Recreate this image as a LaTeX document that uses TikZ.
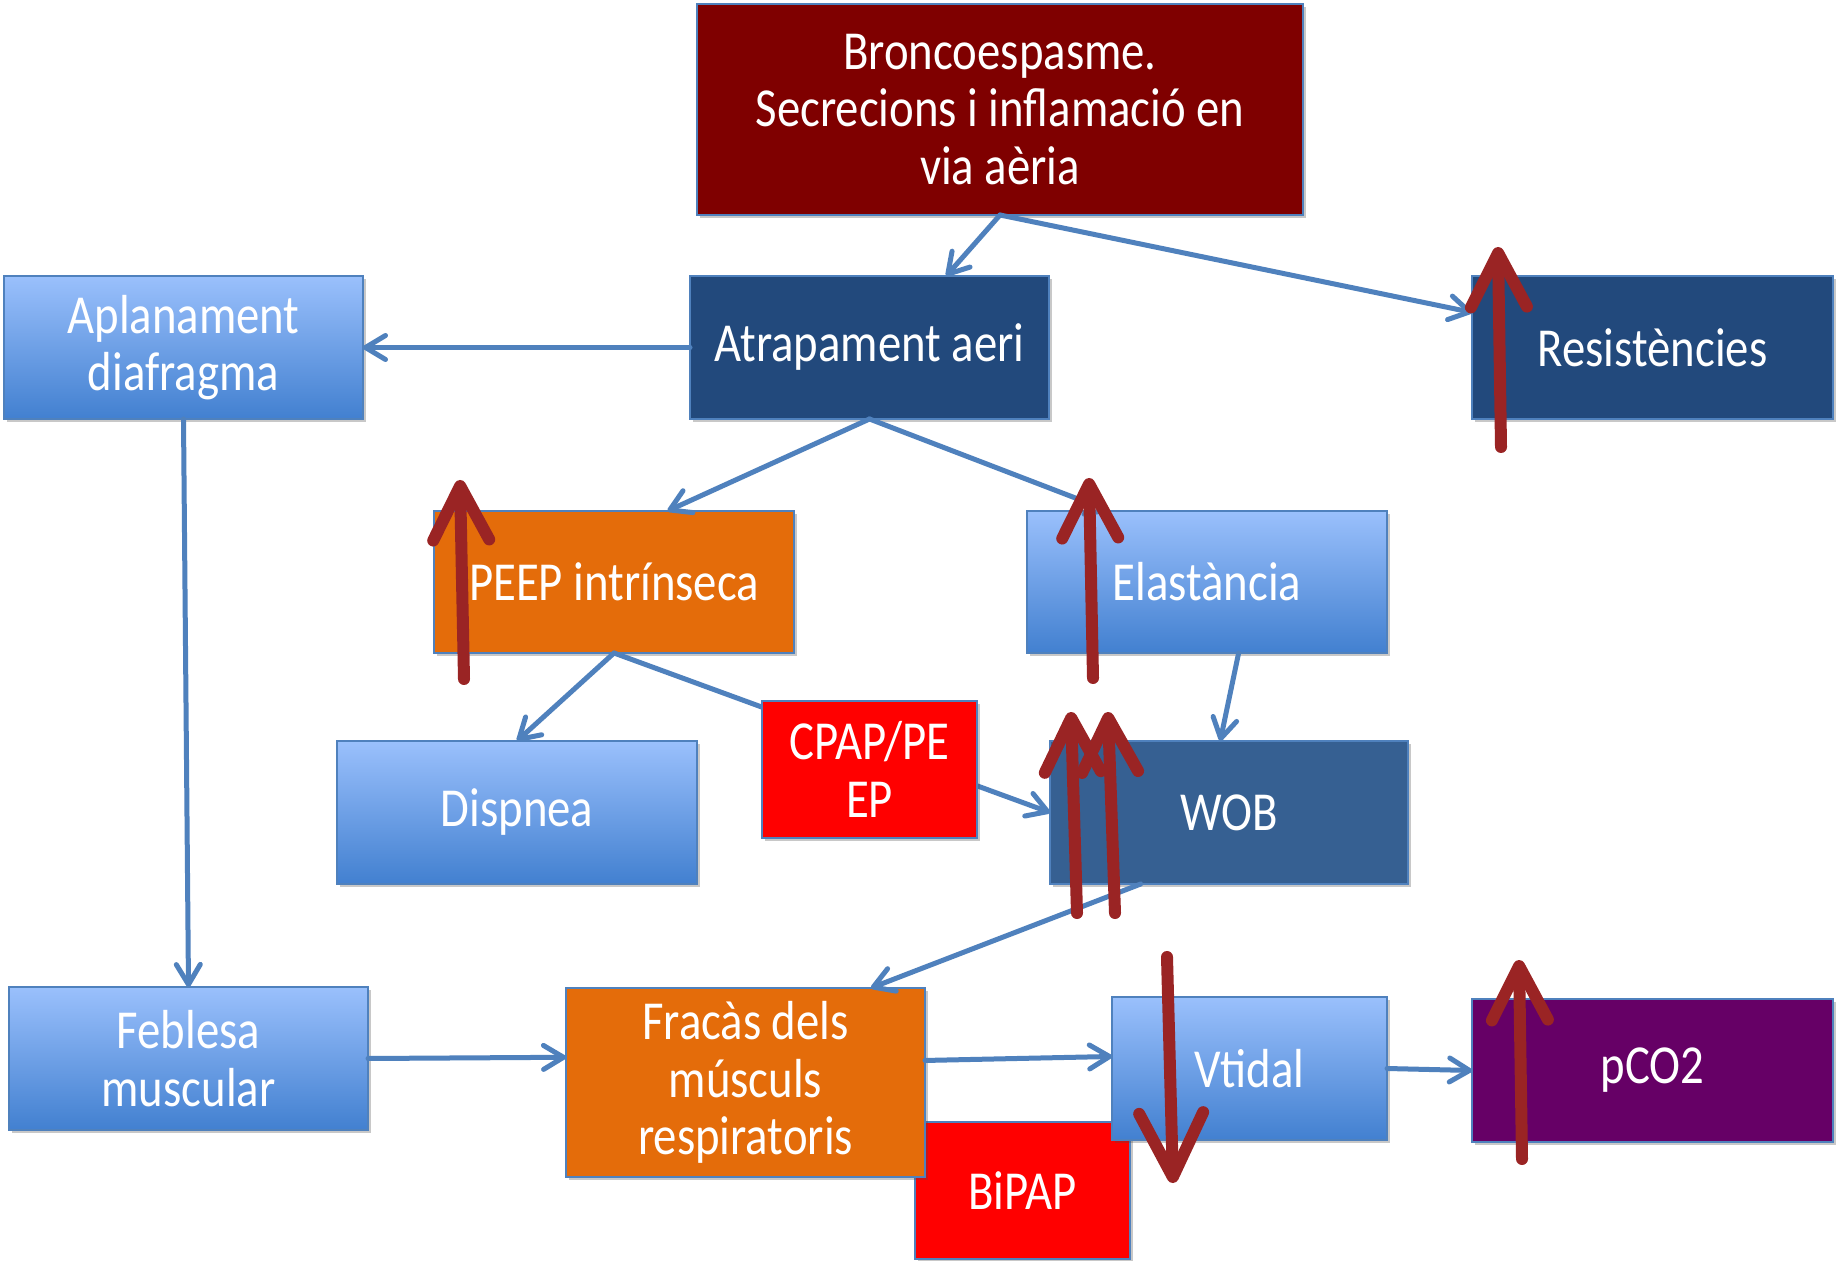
\documentclass[tikz,border=0pt]{standalone}
\usepackage{fontspec}
\setmainfont{Carlito}[FakeStretch=0.85]
\usetikzlibrary{arrows.meta,shadows,calc}

\definecolor{edgeblue}{HTML}{4F81BD}
\definecolor{causered}{HTML}{7F0000}
\definecolor{navy}{HTML}{22497C}
\definecolor{steel}{HTML}{366092}
\definecolor{orangebox}{HTML}{E46C0A}
\definecolor{alarmred}{HTML}{FF0000}
\definecolor{plum}{HTML}{660066}
\definecolor{gradtop}{HTML}{9AC0FC}
\definecolor{gradbot}{HTML}{4280D0}
\definecolor{handred}{HTML}{9A2424}

\tikzset{
  box/.style={draw=edgeblue, line width=0.8pt, text=white, align=center,
    inner sep=2pt, outer sep=0pt,
    font=\fontsize{27.5}{28.7}\selectfont,
    drop shadow={shadow xshift=1.5pt, shadow yshift=-1.5pt, opacity=0.3, fill=black!70}},
  sz/.style 2 args={minimum width=#1*0.5pt, minimum height=#2*0.5pt},
  gradbox/.style={box, top color=gradtop, bottom color=gradbot},
  link/.style={draw=edgeblue, line width=2.5pt, line cap=round,
    -{Straight Barb[length=10pt, width=12pt, round]}},
  handarrow/.style={draw=handred, line width=6pt, line cap=round,
    -{Straight Barb[length=27pt, width=28pt, round]}},
}

\begin{document}
\begin{tikzpicture}[x=0.5pt, y=-0.5pt]
\useasboundingbox[fill=white] (0,0) rectangle (1836,1261);

% lowest layer: the BiPAP box sits under its neighbours
\node[box, fill=alarmred, sz={215}{137}] (bipap) at (1022.5,1190.5) {BiPAP};

% boxes
\node[box, fill=causered, sz={606}{211}] (bronco) at (1000,109.5)
  {Broncoespasme.\\Secrecions i inflamació en\\via aèria};
\node[box, fill=navy, sz={359}{143}] (atrap) at (869.5,347.5) {Atrapament aeri};
\node[box, fill=navy, sz={361}{143}] (resist) at (1652.5,347.5) {Resistències};
\node[gradbox, sz={359}{143}] (aplan) at (183.5,347.5) {Aplanament\\diafragma};
\node[box, fill=orangebox, sz={360}{142}] (peep) at (614,582) {PEEP intrínseca};
\node[gradbox, sz={360}{142}] (elast) at (1207,582) {Elastància};
\node[gradbox, sz={360}{143}] (dispnea) at (517,812.5) {Dispnea};
\node[box, fill=steel, sz={358}{143}] (wob) at (1229,812.5) {WOB};
\node[gradbox, sz={359}{143}] (feblesa) at (188.5,1058.5) {Feblesa\\muscular};
\node[box, fill=orangebox, sz={359}{189}] (fracas) at (745.5,1082.5)
  {Fracàs dels\\músculs\\respiratoris};
\node[gradbox, sz={275}{143}] (vtidal) at (1249.5,1068.5) {Vtidal};
\node[box, fill=plum, sz={361}{143}] (pco2) at (1652.5,1070.5) {pCO2};

% causal links
\draw[link] (bronco.south) -- (atrap.43);
\draw[link] (bronco.south) -- (resist.169);
\draw[link] (atrap.west) -- (aplan.east);
\draw[link] (atrap.south) -- (peep.53);
\draw[link] (atrap.south) -- (elast.144);
\draw[link] (aplan.south) -- (feblesa.north);
\draw[link] (peep.south) -- (dispnea.north);
\draw[link] (peep.south) -- (wob.west);
\draw[link] (elast.-66) -- (wob.97);
\draw[link] (wob.-141) -- (fracas.37);
\draw[link] (feblesa.east) -- (fracas.172);
\draw[link] (fracas.7) -- (vtidal.175);
\draw[link] (vtidal.east) -- (pco2.west);

% treatment box laid over the PEEP link
\node[box, fill=alarmred, sz={215}{137}] (cpap) at (869.5,769.5) {CPAP/PE\\EP};

% hand-drawn trend arrows
\coordinate (resLo) at (1501,447);  \coordinate (resHi) at (1498,247);
\coordinate (peepLo) at (464,679);  \coordinate (peepHi) at (460,480);
\coordinate (elaLo) at (1093,678);  \coordinate (elaHi) at (1089,478);
\coordinate (wobALo) at (1077,913); \coordinate (wobAHi) at (1071,712);
\coordinate (wobBLo) at (1115,913); \coordinate (wobBHi) at (1108,712);
\coordinate (vtHi) at (1167,957);   \coordinate (vtLo) at (1173,1183);
\coordinate (pcoLo) at (1522,1159); \coordinate (pcoHi) at (1519,960);

\draw[handarrow] (resLo) -- (resHi);
\draw[handarrow] (peepLo) -- (peepHi);
\draw[handarrow] (elaLo) -- (elaHi);
\draw[handarrow] (wobALo) -- (wobAHi);
\draw[handarrow] (wobBLo) -- (wobBHi);
\draw[handarrow, -{Straight Barb[length=32pt, width=32pt, round]}] (vtHi) -- (vtLo);
\draw[handarrow] (pcoLo) -- (pcoHi);
\end{tikzpicture}
\end{document}
